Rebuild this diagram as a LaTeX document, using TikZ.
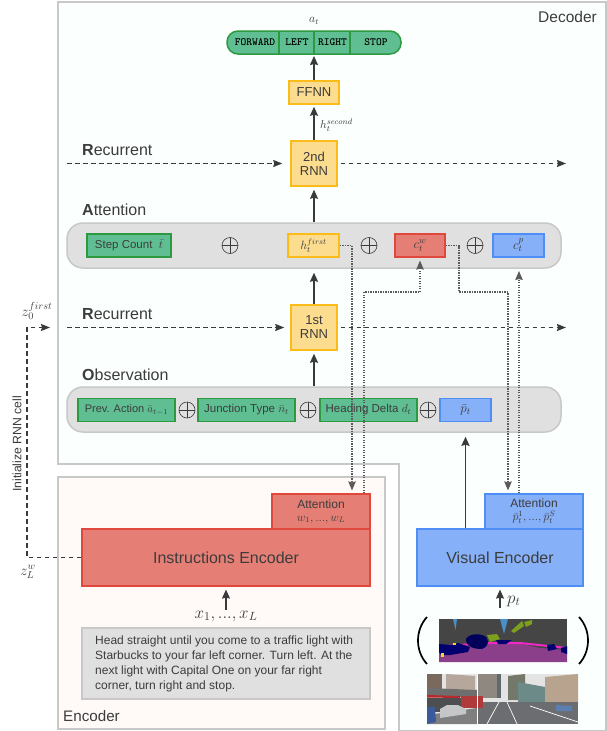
\documentclass[tikz,border=0pt]{standalone}
\usepackage{fix-cm}
\usepackage[no-math]{fontspec}
\setmainfont{Liberation Sans}
\usetikzlibrary{arrows.meta,calc}
\definecolor{gfill}{HTML}{5FBF93}\definecolor{gline}{HTML}{2E9A40}
\definecolor{yfill}{HTML}{FCDC8F}\definecolor{yline}{HTML}{FBBC1A}
\definecolor{rfill}{HTML}{E57F75}\definecolor{rline}{HTML}{E0483E}
\definecolor{bfill}{HTML}{86B0F7}\definecolor{bline}{HTML}{4F8EF6}
\definecolor{pfill}{HTML}{E0E0E0}\definecolor{pline}{HTML}{C8C8C8}
\definecolor{txt}{HTML}{3C3C3C}\definecolor{arr}{HTML}{3A3A3A}\definecolor{dotc}{HTML}{5A5A5A}
\definecolor{decfill}{HTML}{FBFFFD}\definecolor{encfill}{HTML}{FFF9F8}
\newcommand{\fsz}[1]{\fontsize{#1}{#1}\selectfont}
\tikzset{
 hx/.code={\definecolor{tmpc}{HTML}{#1}\pgfkeysalso{/tikz/fill=tmpc}},
 every node/.style={text=txt,inner sep=0pt},
 panel/.style={draw=pline,line width=1.5pt},
 pill/.style={draw=pline,fill=pfill,line width=1.5pt,rounded corners=16pt,minimum height=45pt},
 green box/.style={draw=gline,fill=gfill,line width=1.2pt,minimum height=23pt,font=\fsz{11.5}},
 yellow box/.style={draw=yline,fill=yfill,line width=1.5pt,align=center,font=\fsz{13}},
 red box/.style={draw=rline,fill=rfill,line width=1.2pt,align=center},
 blue box/.style={draw=bline,fill=bfill,line width=1.2pt,align=center},
 oplus/.style={circle,draw=arr,line width=.6pt,minimum size=16pt,path picture={
   \draw[arr,line width=.6pt] (path picture bounding box.north)--(path picture bounding box.south)
   (path picture bounding box.west)--(path picture bounding box.east);}},
 solid arrow/.style={draw=arr,line width=1.3pt,-{Stealth[length=9pt,width=8pt,inset=1pt]}},
 dash arrow/.style={draw=arr,line width=1.2pt,dash pattern=on 4.5pt off 3.5pt,-{Stealth[length=9pt,width=7pt,inset=1pt]}},
 dot arrow/.style={draw=dotc,line width=1.15pt,dash pattern=on 1.4pt off 1.1pt,-{Stealth[length=9pt,width=7.5pt,inset=1pt]}},
 head/.style={anchor=west,font=\fsz{16}},
 act/.style={text=black,font=\ttfamily\bfseries\fsz{11}},
}
\begin{document}
\begin{tikzpicture}[x=1pt,y=-1pt]
\useasboundingbox (0,0) rectangle (607,731);
\fill[white] (0,0) rectangle (607,731);
% panels
\path[panel,fill=decfill] (58,2)--(606,2)--(606,731)--(399,731)--(399,464)--(58,464)--cycle;
\path[panel,fill=encfill] (58,477) rectangle (385,729);
\node[anchor=east,font=\fsz{15.5}] (declabel) at (597,17) {Decoder};
\node[anchor=west,font=\fsz{15.2}] (enclabel) at (63,716) {Encoder};
% pills
\node[pill,minimum width=494pt] (attpill) at (314,245.5) {};
\node[pill,minimum width=494pt] (obspill) at (314,409.5) {};
% action bar
\draw[gline,fill=gfill,line width=1.5pt,rounded corners=11pt] (227,31) rectangle (401,54);
\coordinate (actbar) at (314,54);
\draw[gline,line width=1.2pt] (279,31)--(279,54) (314,31)--(314,54) (350,31)--(350,54);
\node[act] (fwd) at (255,42.5) {FORWARD};
\node[act] (lft) at (297,42.5) {LEFT};
\node[act] (rgt) at (332.5,42.5) {RIGHT};
\node[act] (stp) at (376,42.5) {STOP};
\node[font=\fsz{12}] (at) at (314,21) {$a_t$};
% yellow boxes
\node[yellow box,minimum width=50pt,minimum height=23pt] (ffnn) at (314,92.5) {FFNN};
\node[yellow box,minimum width=46pt,minimum height=45pt] (rnn2) at (314,163.5) {2nd\\[1pt]RNN};
\node[yellow box,minimum width=46pt,minimum height=45pt] (rnn1) at (314,327.5) {1st\\[1pt]RNN};
\node[anchor=west,font=\fsz{11.5}] (hsec) at (320,125) {$h_t^{second}$};
% attention row
\node[green box,minimum width=84pt] (step) at (129,245.5) {Step Count\ \ $\bar{t}$};
\node[oplus] (o1) at (230,245.5) {};
\node[yellow box,minimum width=51pt,minimum height=23pt,font=\fsz{12}] (hfirst) at (313.5,245.5) {$h_t^{first}$};
\node[oplus] (o2) at (369,245.5) {};
\node[red box,minimum width=50pt,minimum height=23pt,font=\fsz{13}] (cw) at (420,245.5) {$c_t^{w}$};
\node[oplus] (o3) at (475,245.5) {};
\node[blue box,minimum width=51pt,minimum height=23pt,font=\fsz{13}] (cp) at (518.5,245.5) {$c_t^{p}$};
% observation row
\node[green box,minimum width=97pt,font=\fsz{11}] (prev) at (126.5,410) {Prev. Action\ $\bar{a}_{t-1}$};
\node[oplus] (o4) at (187,410) {};
\node[green box,minimum width=97pt] (junc) at (246.5,410) {Junction Type\ $\bar{n}_t$};
\node[oplus] (o5) at (308,410) {};
\node[green box,minimum width=97pt] (head1) at (368.5,410) {Heading Delta\ $d_t$};
\node[oplus] (o6) at (428,410) {};
\node[blue box,minimum width=51pt,minimum height=23pt,font=\fsz{13}] (pbar) at (465.5,410) {$\bar{p}_t$};
% headings
\node[head] (hr2) at (82,150.5) {\textbf{R}ecurrent};
\node[head] (ha) at (82,209.5) {\textbf{A}ttention};
\node[head] (hr1) at (82,314) {\textbf{R}ecurrent};
\node[head] (ho) at (82,374.5) {\textbf{O}bservation};
% encoders
\node[red box,minimum width=98pt,minimum height=35pt,font=\fsz{12}] (attw) at (321,511.5) {Attention\\[1pt]$w_1,...,w_L$};
\node[blue box,minimum width=98pt,minimum height=35pt,font=\fsz{12}] (attp) at (534,511.5) {Attention\\[1pt]$\bar{p}_t^1,...,\bar{p}_t^S$};
\node[red box,minimum width=288pt,minimum height=57pt,font=\fsz{16}] (ienc) at (226,557.5) {Instructions Encoder};
\node[blue box,minimum width=166pt,minimum height=57pt,font=\fsz{16}] (venc) at (500,557.5) {Visual Encoder};
\node[font=\fsz{17}] (xs) at (226,616) {$x_1,...,x_L$};
\node[font=\fsz{17},anchor=west] (pt) at (507,601) {$p_t$};
\node[draw=pline,fill=pfill,line width=1.2pt,minimum width=288pt,minimum height=71pt] (instr) at (226,663.5) {};
\node[anchor=west,align=left,font=\fontsize{12}{15}\selectfont] (instrtxt) at (95,663.5)
 {Head straight until you come to a traffic light with\\Starbucks to your far left corner. Turn left. At the\\next light with Capital One on your far right\\corner, turn right and stop.};
% z labels
\node[font=\fsz{14.5}] (z0) at (37,311) {$z_0^{first}$};
\node[font=\fsz{14.5}] (zl) at (28,572) {$z_L^{w}$};
\node[rotate=90,font=\fsz{12.2}] (initlbl) at (17,444) {Initialize RNN cell};
\coordinate (zstart) at (50,327.5);
% solid arrows
\path[solid arrow,shorten >=2pt] (ffnn.north) -- (actbar);
\path[solid arrow,shorten >=2pt] (rnn2.north) -- (ffnn.south);
\path[solid arrow,shorten >=3pt] (attpill.north) -- (rnn2.south);
\path[solid arrow,shorten >=4pt] (rnn1.north) -- (attpill.south);
\path[solid arrow,shorten >=3pt] (obspill.north) -- (rnn1.south);
\path[solid arrow,shorten >=4pt,line width=1.8pt] (venc.north -| pbar) -- (obspill.south -| pbar);
\coordinate (xa) at (226,610); \path[solid arrow,shorten >=3pt] (xa) -- (ienc.south);
\coordinate (pa) at (500,608); \path[solid arrow,shorten >=3pt] (pa) -- (venc.south);
% dashed
\coordinate (r2l) at (67,163.5);\coordinate (r2r) at (566,163.5);
\coordinate (r1l) at (67,327.5);\coordinate (r1r) at (566,327.5);
\path[dash arrow,shorten >=8pt] (r2l) -- (rnn2.west);
\path[dash arrow,shorten <=3pt] (rnn2.east) -- (r2r);
\path[dash arrow,shorten >=6pt] (r1l) -- (rnn1.west);
\path[dash arrow,shorten <=3pt] (rnn1.east) -- (r1r);
\path[dash arrow] (ienc.west) -- (27,557.5) -- (27,327.5) -- (zstart);
% dotted
\coordinate (d1) at ($(attw.north)+(31,0)$);
\coordinate (d2) at ($(attw.north)+(43,0)$);
\coordinate (d3) at ($(attp.north)+(-26,0)$);
\coordinate (d4) at ($(attp.north)+(-15,0)$);
\path[dot arrow,shorten >=3pt] (hfirst.east) -| (d1);
\path[dot arrow,shorten >=3pt] (d2) -- (364,292) -| (cw.south);
\path[dot arrow,shorten >=3pt] (cw.east) -- (459,245.5) -- (459,292) -- (508,292) -- (d3);
\path[dot arrow,shorten >=3pt] (d4) -- (519,268);
% parens
\draw[black,line width=1.7pt] (427,617) .. controls (415,630) and (415,651) .. (427,664);
\draw[black,line width=1.7pt] (579,617) .. controls (591,630) and (591,651) .. (579,664);
% semantic image
\begin{scope}
\clip (439,619) rectangle (567,662);
\fill[hx=454545] (439,619) rectangle (567,662);
\fill[hx=8B3F8A] (439,653) -- (470,646) -- (490,642) -- (512,642) -- (540,648) -- (567,650) -- (567,662) -- (439,662) -- cycle;
\fill[hx=F028C8] (445,645) -- (490,642) -- (520,642) -- (567,647) -- (567,649) -- (520,644) -- (490,644) -- (445,647) -- cycle;
\fill[hx=00006E] (439,644) -- (452,645) -- (458,643) -- (470,647) -- (468,652) -- (450,655) -- (441,655) -- (439,652) -- cycle;
\fill[hx=00005A] (466,639) .. controls (470,633) and (478,634) .. (482,635) .. controls (490,637) and (490,646) .. (482,649) .. controls (474,649) and (466,647) .. (466,639) -- cycle;
\fill[hx=00006E] (496,640) -- (512,640) -- (506,644) -- (498,644) -- cycle;
\fill[hx=00006E] (547,645) -- (554,644) -- (557,649) -- (548,651) -- cycle;
\fill[hx=00006E] (561,648) -- (567,646) -- (567,654) -- (561,652) -- cycle;
\fill[hx=7CA01E] (487,635) -- (497,634) -- (500,639) -- (490,642) -- cycle;
\fill[hx=7CA01E] (511,631) -- (522,621) -- (524,626) -- (514,633) -- cycle;
\fill[hx=7CA01E] (524,622) -- (532,620) -- (532,624) -- (526,627) -- cycle;
\fill[hx=4A90C8] (453,619) -- (457,619) -- (455.5,630) -- cycle;
\fill[hx=4A90C8] (500,619) -- (508,619) -- (504,634) -- cycle;
\fill[hx=E8E020] (441,653) rectangle (443.5,657);
\fill[hx=E8E020] (453,642.5) rectangle (456,644.5);
\end{scope}
% street photos
\begin{scope}
\clip (427,674) rectangle (578,724);
\fill[hx=E4E4E4] (427,674) rectangle (578,724);
\fill[hx=7A6A5E] (427,674) rectangle (442,690);
\fill[hx=B5A79C] (446,674) -- (475,676) -- (475,695) -- (446,695) -- cycle;
\fill[hx=8E8880] (478,674) rectangle (497,698);
\fill[hx=5F6A6E] (497,674) rectangle (501,698);
\fill[hx=74786A] (508,676) -- (525,674) -- (525,700) -- (508,700) -- cycle;
\fill[hx=6B8A88] (518,682) -- (545,687) -- (545,702) -- (518,702) -- cycle;
\fill[hx=B8A48E] (545,677) -- (578,674) -- (578,705) -- (545,705) -- cycle;
\fill[hx=6E6E6E] (427,688) -- (477,690) -- (477,697) -- (427,697) -- cycle;
\fill[hx=B8282C] (427,695) -- (460,696) -- (460,698) -- (427,697.5) -- cycle;
\fill[hx=4C4E50] (427,698) rectangle (461,712);
\fill[hx=7F7F80] (427,715) -- (477,708) -- (477,724) -- (427,724) -- cycle;
\fill[hx=6C6D70] (478,702) -- (578,702) -- (578,724) -- (478,724) -- cycle;
\fill[hx=B03A3A] (461,696) rectangle (483,708);
\fill[hx=C4C6C8] (440,709) -- (447,705) -- (458,705) -- (466,709) -- (466,714) -- (440,718) -- cycle;
\fill[hx=3A5A9A] (427,707) -- (435,707) -- (436,722) -- (427,724) -- cycle;
\fill[hx=5C7FB0] (556,705) -- (572,706) -- (572,711) -- (556,711) -- cycle;
\draw[white,line width=.7pt] (487,724) -- (499,702) (517,724) -- (507,702) (578,722) -- (530,706);
\draw[white,line width=1.2pt] (477.5,674) -- (477.5,724);
\end{scope}
\end{tikzpicture}
\end{document}
